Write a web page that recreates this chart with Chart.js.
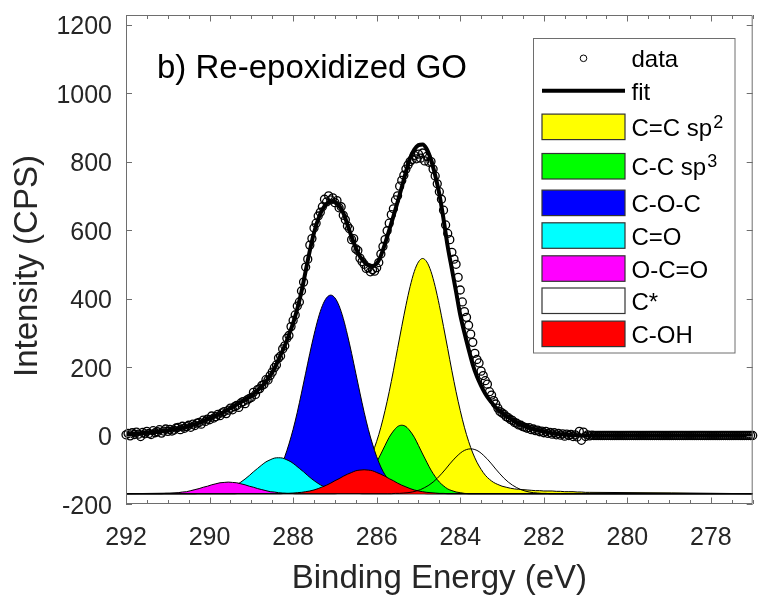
<!DOCTYPE html>
<html>
<head>
<meta charset="utf-8">
<script src="https://cdn.jsdelivr.net/npm/chart.js@4/dist/chart.umd.min.js"></script>
<style>
html,body{margin:0;padding:0;background:#fff;overflow:hidden}
#wrap{width:758px;height:596px;position:relative}
</style>
</head>
<body>
<div id="wrap"><canvas id="c" width="758" height="596"></canvas></div>
<script>
// ---------------- DATA ----------------
const energyRange = [292, 277];          // binding energy axis (eV), reversed
const xTickValues = [292, 290, 288, 286, 284, 282, 280, 278];
const yTickValues = [-200, 0, 200, 400, 600, 800, 1000, 1200];
const yRange = [-200, 1228];
const baselineCPS = -170;                // baseline of the component peaks

// measured data (CPS), 0.05 eV steps starting at 292.00 eV
const dataStart = 292.0, dataStep = 0.05;
const dataCounts = [
  2,6,-1,8,3,10,4,-3,9,5,12,6,3,14,8,11,17,7,13,19,
  12,18,13,16,22,24,17,27,21,26,30,24,33,29,36,38,33,45,41,48,
  46,57,51,55,62,58,66,70,64,74,80,75,84,88,82,95,99,93,104,108,
  111,126,120,134,137,146,149,163,162,175,185,198,206,226,232,253,262,284,292,318,
  336,352,378,390,422,448,492,515,556,575,606,620,641,652,668,690,682,700,688,694,
  680,686,665,668,643,630,612,604,572,575,545,540,518,508,500,488,490,478,484,480,
  490,505,530,552,572,598,620,645,662,688,700,728,745,760,778,790,800,806,818,808,
  822,810,825,802,815,798,800,778,758,735,712,690,658,615,590,572,535,515,500,462,
  425,390,362,345,322,296,272,240,222,212,188,175,160,150,128,118,102,92,80,70,
  66,62,55,52,47,44,38,36,31,30,26,24,21,23,17,19,14,16,11,13,
  8,12,6,9,4,8,2,6,1,5,-2,4,0,3,-3,2,-4,12,-14,10,
  -3,2,-1,1
];
const dataFlat = [
  0,0,0,0,0,0,0,0,0,0,0,
  0,0,0,0,0,0,0,0,0,0,0,
  0,0,0,0,0,0,0,0,0,0,0,
  0,0,0,0,0,0,0,0,0,0,0,
  0,0,0,0,0,0,0,0,0,0,0,
  0,0,0,0,0,0,0,0,0,0,0,
  0,0,0,0,0,0,0,0,0,0,0
];

// fit envelope (CPS), 0.1 eV steps starting at 292.0 eV
const fitStart = 292.0, fitStep = 0.1;
const fitCounts = [
  3,4,5,6,7,8,9,10,12,13,
  15,17,19,21,24,27,31,35,40,45,
  50,55,60,66,73,80,87,94,101,108,
  116,126,138,150,166,185,208,235,262,294,
  328,370,420,480,540,592,632,660,676,684,
  683,671,650,616,580,548,523,507,497,495,
  502,525,560,600,640,682,725,770,810,835,
  848,850,836,805,760,705,632,552,486,420,
  352,300,252,207,172,145,122,104,89,76,
  66,57,49,41,34,29,25,21,18,15,
  12,10,7,5,4,3,2,1,1,0,
  0
];
const fitEndEnergy = 277, fitEndCounts = 0;

// fitted components (CPS), 0.1 eV steps from their start energy
const compStep = 0.1;
const sp2Start = 288.9;
const sp2Counts = [
  -166,-166,-165,-165,-164,-164,-164,-163,-163,-162,-162,-162,-161,-161,-160,-159,-158,-157,-156,-154,
  -151,-148,-143,-137,-128,-116,-99,-78,-51,-17,24,73,128,189,254,318,380,435,479,507,517,
  507,479,435,380,318,254,189,128,73,24,-17,-51,-78,-99,-116,-128,-137,-143,-148,-151,
  -154,-156,-157,-158,-159,-160,-161,-161,-162,-162,-162,-163,-163,-164,-164,-164,-165,-165,-166,-166
];
const sp3Start = 287.0;
const sp3Counts = [
  -170,-169,-167,-165,-161,-156,-147,-136,-120,-101,-78,-54,-29,-5,13,26,30,
  26,13,-5,-29,-54,-78,-101,-120,-136,-147,-156,-161,-165,-167,-169,-170
];
const cocStart = 289.4;
const cocCounts = [
  -170,-169,-169,-168,-166,-164,-160,-153,-145,-132,-115,-92,-62,-25,18,68,124,182,240,294,342,379,402,410,
  402,379,342,294,240,182,124,68,18,-25,-62,-92,-115,-132,-145,-153,-160,-164,-166,-168,-169,-169,-170
];
const coStart = 290.35;
const coCounts = [
  -170,-169,-169,-168,-167,-165,-163,-160,-156,-150,-144,-136,-127,-117,-106,-96,-86,-77,-71,-66,-65,
  -66,-71,-77,-86,-96,-106,-117,-127,-136,-144,-150,-156,-160,-163,-165,-167,-168,-169,-169,-170
];
const ocoStart = 291.25;
const ocoCounts = [
  -170,-170,-169,-169,-168,-167,-165,-164,-161,-158,-155,-151,-148,-144,-141,-138,-137,-136,
  -137,-138,-141,-144,-148,-151,-155,-158,-161,-164,-165,-167,-168,-169,-169,-170,-170
];
const cstarStart = 285.75;
const cstarCounts = [
  -170,-170,-169,-169,-168,-167,-165,-162,-158,-152,-145,-136,-125,-112,-98,-83,-69,-57,-47,-41,-39,
  -41,-47,-57,-69,-83,-98,-112,-125,-136,-145,-152,-158,-162,-165,-167,-168,-169,-169,-170,-170
];
const cohStart = 288.3;
const cohCounts = [
  -170,-169,-169,-168,-167,-166,-164,-162,-159,-155,-150,-145,-139,-132,-126,-119,-113,-108,-103,-101,-100,
  -101,-103,-108,-113,-119,-126,-132,-139,-145,-150,-155,-159,-162,-164,-166,-167,-168,-169,-169,-170
];

// ---------------- BUILD SERIES ----------------
const r2 = v => Math.round(v * 100) / 100;
const dataPoints = dataCounts.concat(dataFlat).map((v, i) => ({x: r2(dataStart - i * dataStep), y: v}));
const fitPoints = fitCounts.map((v, i) => ({x: r2(fitStart - i * fitStep), y: v}));
fitPoints.push({x: fitEndEnergy, y: fitEndCounts});
function compSeries(start, counts) {
  const pts = [{x: energyRange[0], y: baselineCPS}];
  counts.forEach((v, i) => pts.push({x: r2(start - i * compStep), y: v}));
  pts.push({x: energyRange[1], y: baselineCPS});
  return pts;
}

const FONT = "'Liberation Sans', Arial, Helvetica, sans-serif";
const AXIS_COLOR = '#6e6e6e';
const TEXT_COLOR = '#262626';

function comp(label, start, counts, color, order) {
  return {
    label, data: compSeries(start, counts),
    borderColor: '#000', borderWidth: 1,
    backgroundColor: color || 'rgba(0,0,0,0)',
    fill: color ? {value: baselineCPS} : false,
    pointRadius: 0, cubicInterpolationMode: 'monotone', order
  };
}

const legendEntries = [
  {type: 'marker', text: 'data', cy: 58.3},
  {type: 'line', text: 'fit', cy: 90.7},
  {type: 'box', text: 'C=C sp', sup: '2', color: '#ffff00', cy: 126.8},
  {type: 'box', text: 'C-C sp', sup: '3', color: '#00ff00', cy: 166.2},
  {type: 'box', text: 'C-O-C', color: '#0000ff', cy: 202.8},
  {type: 'box', text: 'C=O', color: '#00ffff', cy: 235.5},
  {type: 'box', text: 'O-C=O', color: '#ff00ff', cy: 268.5},
  {type: 'box', text: 'C*', color: '#ffffff', cy: 300.7},
  {type: 'box', text: 'C-OH', color: '#ff0000', cy: 333.8}
];

const decorPlugin = {
  id: 'decor',
  afterDatasetsDraw(chart) {
    const {ctx, chartArea: a, scales: {x, y}} = chart;
    ctx.save();
    ctx.strokeStyle = AXIS_COLOR;
    ctx.lineWidth = 1;
    ctx.beginPath();
    ctx.rect(a.left + 0.5, a.top + 0.5, a.right - a.left - 1, a.bottom - a.top - 1);
    for (let k = 0; k <= 30; k++) {
      const v = energyRange[1] + k * 0.5;
      const major = xTickValues.includes(v);
      const len = major ? 6.5 : 4;
      const px = Math.round(x.getPixelForValue(v)) + 0.5;
      ctx.moveTo(px, a.bottom); ctx.lineTo(px, a.bottom - len);
      ctx.moveTo(px, a.top); ctx.lineTo(px, a.top + len);
    }
    yTickValues.forEach(v => {
      const py = Math.round(y.getPixelForValue(v)) + 0.5;
      ctx.moveTo(a.left, py); ctx.lineTo(a.left + 6, py);
      ctx.moveTo(a.right, py); ctx.lineTo(a.right - 6, py);
    });
    ctx.stroke();

    // panel title
    ctx.fillStyle = '#000';
    ctx.font = '33px ' + FONT;
    ctx.textAlign = 'left';
    ctx.textBaseline = 'alphabetic';
    ctx.fillText('b) Re-epoxidized GO', 157, 78);

    // axis titles
    ctx.fillStyle = TEXT_COLOR;
    ctx.textAlign = 'center';
    ctx.fillText('Binding Energy (eV)', (a.left + a.right) / 2, 588);
    ctx.save();
    ctx.translate(36.5, 266);
    ctx.rotate(-Math.PI / 2);
    ctx.fillText('Intensity (CPS)', 0, 0);
    ctx.restore();

    // legend
    ctx.fillStyle = '#fff';
    ctx.fillRect(533.5, 38.5, 201.5, 314.5);
    ctx.strokeStyle = AXIS_COLOR;
    ctx.lineWidth = 1;
    ctx.strokeRect(533.5, 38.5, 201.5, 314.5);
    const x0 = 542, x1 = 625, tx = 631.5;
    legendEntries.forEach(e => {
      if (e.type === 'marker') {
        ctx.beginPath();
        ctx.arc((x0 + x1) / 2, e.cy, 3.3, 0, Math.PI * 2);
        ctx.strokeStyle = '#000'; ctx.lineWidth = 1; ctx.stroke();
      } else if (e.type === 'line') {
        ctx.beginPath();
        ctx.moveTo(x0, e.cy); ctx.lineTo(x1, e.cy);
        ctx.strokeStyle = '#000'; ctx.lineWidth = 4; ctx.stroke();
      } else {
        ctx.fillStyle = e.color;
        ctx.fillRect(x0, e.cy - 12.7, x1 - x0, 25.5);
        ctx.strokeStyle = '#333'; ctx.lineWidth = 1.2;
        ctx.strokeRect(x0, e.cy - 12.7, x1 - x0, 25.5);
      }
      ctx.fillStyle = '#000';
      ctx.font = '24px ' + FONT;
      ctx.textAlign = 'left';
      ctx.fillText(e.text, tx, e.cy + 9);
      if (e.sup) {
        const w = ctx.measureText(e.text).width;
        ctx.font = '18px ' + FONT;
        ctx.fillText(e.sup, tx + w + 1, e.cy + 1);
      }
    });
    ctx.restore();
  }
};

new Chart(document.getElementById('c').getContext('2d'), {
  type: 'line',
  data: {
    datasets: [
      {label: 'data', data: dataPoints, showLine: false, pointRadius: 4, pointBorderWidth: 1.3,
       borderColor: '#000', pointBorderColor: '#000', backgroundColor: 'rgba(0,0,0,0)',
       pointBackgroundColor: 'rgba(0,0,0,0)', order: 1, clip: 6},
      {label: 'fit', data: fitPoints, borderColor: '#000', borderWidth: 4, pointRadius: 0,
       cubicInterpolationMode: 'monotone', fill: false, order: 0},
      comp('C=C sp2', sp2Start, sp2Counts, '#ffff00', 8),
      comp('C-C sp3', sp3Start, sp3Counts, '#00ff00', 7),
      comp('C-O-C', cocStart, cocCounts, '#0000ff', 6),
      comp('C=O', coStart, coCounts, '#00ffff', 5),
      comp('O-C=O', ocoStart, ocoCounts, '#ff00ff', 4),
      comp('C*', cstarStart, cstarCounts, null, 2),
      comp('C-OH', cohStart, cohCounts, '#ff0000', 3)
    ]
  },
  options: {
    responsive: false,
    animation: false,
    layout: {padding: {top: 15, right: 0, left: 0, bottom: 0}},
    plugins: {legend: {display: false}, tooltip: {enabled: false}},
    scales: {
      x: {
        type: 'linear', reverse: true, min: energyRange[1], max: energyRange[0],
        afterBuildTicks: s => { s.ticks = xTickValues.map(v => ({value: v})); },
        afterFit: s => { s.height = 92; s.paddingLeft = 0; s.paddingRight = 0; },
        grid: {display: false, drawTicks: false}, border: {display: false},
        ticks: {font: {family: FONT, size: 25}, color: TEXT_COLOR, padding: 19, maxRotation: 0,
                autoSkip: false, callback: v => String(v)}
      },
      y: {
        type: 'linear', min: yRange[0], max: yRange[1],
        afterBuildTicks: s => { s.ticks = yTickValues.map(v => ({value: v})); },
        afterFit: s => { s.width = 126; s.paddingTop = 0; s.paddingBottom = 0; },
        grid: {display: false, drawTicks: false}, border: {display: false},
        ticks: {font: {family: FONT, size: 25}, color: TEXT_COLOR, padding: 14, labelOffset: 3,
                autoSkip: false, callback: v => String(v)}
      }
    }
  },
  plugins: [decorPlugin]
});
</script>
</body>
</html>
